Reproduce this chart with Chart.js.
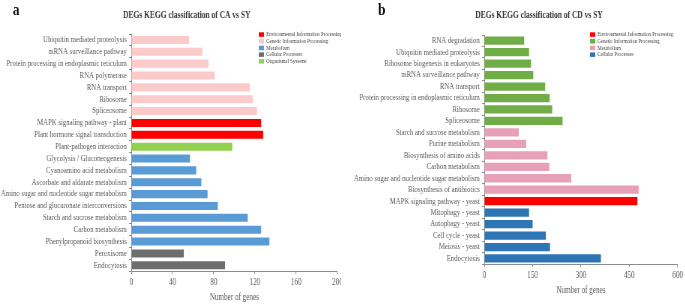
<!DOCTYPE html>
<html>
<head>
<meta charset="utf-8">
<script src="https://cdn.jsdelivr.net/npm/chart.js@4/dist/chart.umd.min.js"></script>
<style>
  body { margin: 0; background: #fff; width: 685px; height: 304px; position: relative; overflow: hidden; }
  .panel { position: absolute; top: 0; height: 304px; overflow: hidden; }
  .panel canvas { transform: scaleX(0.75); transform-origin: 0 0; }
  .tag { position: absolute; top: 0px; font: bold 17px "Liberation Serif", serif; color: #111; transform: scaleX(0.8); }
</style>
</head>
<body>
<div class="panel" style="left:0;width:341px"><canvas id="chartA" width="460" height="304"></canvas></div>
<div class="panel" style="left:341px;width:344px"><canvas id="chartB" width="459" height="304"></canvas></div>
<div class="tag" style="left:12px">a</div>
<div class="tag" style="left:377px">b</div>
<script>
// panel a - CA vs SY (top to bottom)
var catsA = ["Ubiquitin mediated proteolysis", "mRNA surveillance pathway", "Protein processing in endoplasmic reticulum",
  "RNA polymerase", "RNA transport", "Ribosome", "Spliceosome", "MAPK signaling pathway - plant",
  "Plant hormone signal transduction", "Plant-pathogen interaction", "Glycolysis / Gluconeogenesis",
  "Cyanoamino acid metabolism", "Ascorbate and aldarate metabolism", "Amino sugar and nucleotide sugar metabolism",
  "Pentose and glucuronate interconversions", "Starch and sucrose metabolism", "Carbon metabolism",
  "Phenylpropanoid biosynthesis", "Peroxisome", "Endocytosis"];
var valsA = [56, 69, 75, 81, 115, 118, 122, 126, 128, 98, 57, 63, 68, 74, 84, 113, 126, 134, 51, 91];
var grpA = [1, 1, 1, 1, 1, 1, 1, 0, 0, 4, 2, 2, 2, 2, 2, 2, 2, 2, 3, 3];
var groupsA = ["Environmental Information Processing", "Genetic Information Processing", "Metabolism", "Cellular Processes", "Organismal Systems"];
var colorsA = ["#ff0000", "#fbcaca", "#5b9bd5", "#6e6e6e", "#92d050"];
var ticksA = [0, 40, 80, 120, 160, 200];

// panel b - CD vs SY
var catsB = ["RNA degradation", "Ubiquitin mediated proteolysis", "Ribosome biogenesis in eukaryotes",
  "mRNA surveillance pathway", "RNA transport", "Protein processing in endoplasmic reticulum", "Ribosome",
  "Spliceosome", "Starch and sucrose metabolism", "Purine metabolism", "Biosynthesis of amino acids",
  "Carbon metabolism", "Amino sugar and nucleotide sugar metabolism", "Biosynthesis of antibiotics",
  "MAPK signaling pathway - yeast", "Mitophagy - yeast", "Autophagy - yeast", "Cell cycle - yeast",
  "Meiosis - yeast", "Endocytosis"];
var valsB = [124, 139, 145, 152, 189, 203, 211, 243, 107, 130, 196, 202, 270, 479, 475, 139, 150, 191, 204, 362];
var grpB = [1, 1, 1, 1, 1, 1, 1, 1, 2, 2, 2, 2, 2, 2, 0, 3, 3, 3, 3, 3];
var groupsB = ["Environmental Information Processing", "Genetic Information Processing", "Metabolism", "Cellular Processes"];
var colorsB = ["#ff0000", "#70ad47", "#e6a1b9", "#2e75b6"];
var ticksB = [0, 150, 300, 450, 600];

var serif = "'Liberation Serif', 'Times New Roman', serif";
var txtGrey = "#595959";

// title + little legend box in the top right corner
function extrasPlugin(title, titleX, groups, colors, x, y) {
  return {
    id: 'extras',
    afterDraw: function(chart) {
      var ctx = chart.ctx;
      ctx.save();
      ctx.font = "bold 10px " + serif;
      ctx.fillStyle = "#333";
      ctx.textAlign = "center";
      ctx.textBaseline = "middle";
      ctx.fillText(title, titleX, 15);
      ctx.textAlign = "left";
      ctx.font = "6.5px " + serif;
      groups.forEach(function(g, i) {
        var yy = y + i * 6.7;
        ctx.fillStyle = colors[i];
        ctx.fillRect(x, yy - 2, 7, 4.5);
        ctx.fillStyle = "#444";
        ctx.fillText(g, x + 10, yy + 0.3);
      });
      ctx.restore();
    }
  };
}

function makeChart(id, cats, vals, grp, colors, ticks, axisW, pad, barPct, extras) {
  return new Chart(document.getElementById(id), {
    type: "bar",
    data: {
      labels: cats,
      datasets: [{
        data: vals,
        backgroundColor: grp.map(function(g) { return colors[g]; }),
        barPercentage: barPct,
        categoryPercentage: 1
      }]
    },
    options: {
      indexAxis: "y",
      responsive: false,
      animation: false,
      devicePixelRatio: 1,
      layout: { padding: pad },
      plugins: {
        legend: { display: false },
        tooltip: { enabled: false },
        title: { display: false }
      },
      scales: {
        x: {
          min: ticks[0],
          max: ticks[ticks.length - 1],
          afterBuildTicks: function(scale) {
            scale.ticks = ticks.map(function(v) { return { value: v }; });
          },
          border: { color: "#8c8c8c" },
          grid: { display: true, drawOnChartArea: false, drawTicks: true, tickLength: 3, color: "#8c8c8c" },
          ticks: { color: txtGrey, font: { family: serif, size: 9.5 }, padding: 3, maxRotation: 0 },
          title: { display: true, text: "Number of genes", color: txtGrey, font: { family: serif, size: 9.5 }, padding: { top: 0, bottom: 0 } }
        },
        y: {
          afterFit: function(scale) { scale.width = axisW; },
          border: { color: "#8c8c8c" },
          grid: { display: true, offset: true, drawOnChartArea: false, drawTicks: true, tickLength: 3, color: "#8c8c8c" },
          ticks: { color: txtGrey, font: { family: serif, size: 9 }, padding: 3, autoSkip: false }
        }
      }
    },
    plugins: [extras]
  });
}

makeChart("chartA", catsA, valsA, grpA, colorsA, ticksA, 175, { left: 0, right: 2, top: 34, bottom: 1 }, 0.68,
  extrasPlugin("DEGs KEGG classification of CA vs SY", 249, groupsA, colorsA, 345, 34.3));
makeChart("chartB", catsB, valsB, grpB, colorsB, ticksB, 191, { left: 0, right: 10, top: 35, bottom: 8 }, 0.72,
  extrasPlugin("DEGs KEGG classification of CD vs SY", 264, groupsB, colorsB, 332, 34.3));
</script>
</body>
</html>
